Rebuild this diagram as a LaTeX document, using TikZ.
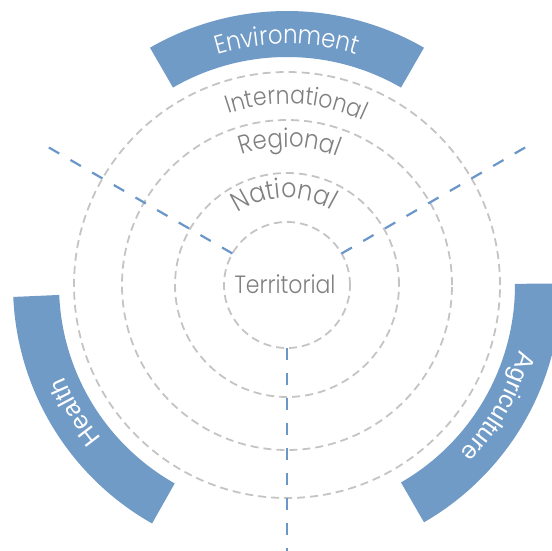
\documentclass[tikz,border=0pt]{standalone}
\usepackage{fontspec}
\setmainfont{Poppins Light}[FakeStretch=0.88]
\newfontfamily\armfont{Liberation Sans}
\usetikzlibrary{decorations.text}
\definecolor{bandBlue}{RGB}{113,155,199}
\definecolor{spokeBlue}{RGB}{106,150,200}
\definecolor{ringGray}{RGB}{196,196,196}
\definecolor{txtGray}{RGB}{128,128,128}

\newcommand{\lvlfont}[1]{\fontsize{#1}{#1}\selectfont\color{txtGray}}
\newcommand{\envfont}{\fontsize{26}{26}\selectfont\color{white}}
\newcommand{\armlbl}{\armfont\fontsize{25}{25}\selectfont\color{white}}

\begin{document}
\begin{tikzpicture}[
  x=1pt,y=1pt,
  ring/.style={draw=ringGray,line width=1.8pt,dash pattern=on 8pt off 5pt},
  spoke/.style={draw=spokeBlue,line width=2.2pt,dash pattern=on 12pt off 13pt},
  band/.style={fill=bandBlue,draw=none},
  arclbl/.style={decorate,decoration={text along path,text align=center}}
]

% ---- radii ----
\def\rIn{228}   % inner edge of the bands
\def\rOut{274}  % outer edge of the bands
\def\rTxt{241}  % baseline of the band labels

% ---- frame ----
\useasboundingbox (-287,-265) rectangle (265,285);
\clip (-287,-265) rectangle (265,285);

\coordinate (ctr) at (0,0);

% ---- level rings ----
\foreach \R in {63,112,165,213}{
  \draw[ring] (ctr) circle[radius=\R];
}

% ---- spokes ----
\foreach \A in {30,150,270}{
  \coordinate (in\A) at (\A:63);
  \coordinate (out\A) at (\A:286);
  \draw[spoke] (in\A) -- (out\A);
}

% ---- sector bands ----
\foreach \S/\E in {60/120,182.5/240.5,-60/0.3}{
  \fill[band] (\S:\rIn) arc[start angle=\S,end angle=\E,radius=\rIn]
    -- (\E:\rOut) arc[start angle=\E,end angle=\S,radius=\rOut] -- cycle;
}

% ---- level labels ----
\node[font=\lvlfont{25},anchor=base,inner sep=0pt] (terr) at (-2,-8) {Territorial};

\path[arclbl,decoration={text={|\lvlfont{27}|National}}]
  (152:87) arc[start angle=152,end angle=32,radius=87];
\path[arclbl,decoration={text={|\lvlfont{26}|Regional}}]
  (149:138) arc[start angle=149,end angle=29,radius=138];
\path[arclbl,decoration={text={|\lvlfont{25}|International}}]
  (147:181) arc[start angle=147,end angle=27,radius=181];

% ---- band labels ----
\path[arclbl,decoration={text={|\envfont|Environment}}]
  (150:\rTxt) arc[start angle=150,end angle=30,radius=\rTxt];
\path[arclbl,decoration={text={|\armlbl|Health}}]
  (271:\rTxt) arc[start angle=271,end angle=151,radius=\rTxt];
\path[arclbl,decoration={text={|\armlbl|Agriculture}}]
  (30:\rTxt) arc[start angle=30,end angle=-90,radius=\rTxt];

\end{tikzpicture}
\end{document}
